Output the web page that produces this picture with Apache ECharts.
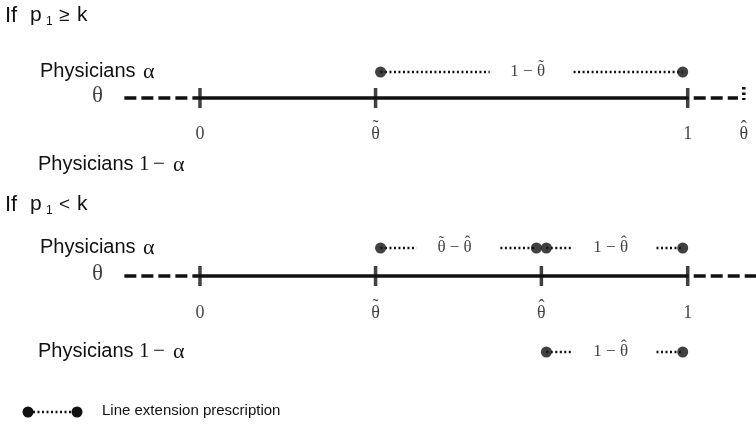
<!DOCTYPE html>
<html>
<head>
<meta charset="utf-8">
<script src="https://cdn.jsdelivr.net/npm/echarts@6/dist/echarts.min.js"></script>
<style>
  html, body { margin: 0; padding: 0; background: #fff; }
  #main { width: 756px; height: 424px; }
</style>
</head>
<body>
<div id="main"></div>
<script>
// points on the theta line (0 and 1 are the ends of the unit interval)
let thetaTilde = 0.36;
let thetaHatHigh = 1.115;  // case p1 >= k : theta-hat lies beyond 1
let thetaHatLow = 0.70;    // case p1 < k
let lineStart = -0.155;
let lineEnd = 1.15;

// tick labels of each panel (~ = tilde accent, ^ = hat accent on the theta before it)
let ticksTop = [[0, '0'], [thetaTilde, 'θ~'], [1, '1'], [thetaHatHigh, 'θ^']];
let ticksBottom = [[0, '0'], [thetaTilde, 'θ~'], [thetaHatLow, 'θ^'], [1, '1']];

// line extension prescription segments: [from, to, label]
let segTopAlpha = [[thetaTilde, 1, '1 − θ~']];
let segBottomAlpha = [[thetaTilde, thetaHatLow, 'θ~ − θ^'], [thetaHatLow, 1, '1 − θ^']];
let segBottomOther = [[thetaHatLow, 1, '1 − θ^']];

// vertical layout (rows, in pixels from the top)
let rowsTop = { title: 17, alpha: 72, axis: 98, ticks: 134, other: 165 };
let rowsBottom = { title: 206, alpha: 248, axis: 276, ticks: 313, other: 352 };

let INK = '#111';
let SANS = '"Liberation Sans", Arial, sans-serif';
let SERIF = '"Liberation Serif", "DejaVu Serif", serif';
let ACCENTS = { '~': '˜', '^': 'ˆ' };
let gapHalf = 0.086;  // half width of the gap left for a segment label

let measureCtx = document.createElement('canvas').getContext('2d');
function textWidth(s, size) {
  measureCtx.font = size + 'px ' + SERIF;
  return measureCtx.measureText(s).width;
}

// scatter items for a math label: the plain text plus each accent placed over its theta
function mathItems(x, y, str, size) {
  let base = str.replace(/[~^]/g, '');
  let total = textWidth(base, size);
  let items = [{ value: [x, y], label: { formatter: base, fontSize: size } }];
  let plain = '';
  for (let i = 0; i < str.length; i++) {
    let c = str.charAt(i);
    if (ACCENTS[c]) {
      let pre = plain.slice(0, -1);
      let dx = textWidth(pre, size) + textWidth('θ', size) / 2 - total / 2;
      items.push({
        value: [x, y],
        label: { formatter: ACCENTS[c], fontSize: size, offset: [dx, -size * 0.3] }
      });
    } else {
      plain += c;
    }
  }
  return items;
}

let myChart = echarts.init(document.getElementById('main'));
let series = [];

function hline(x0, x1, y, style) {
  series.push({
    type: 'line', silent: true, symbol: 'none', animation: false,
    data: [[x0, y], [x1, y]],
    lineStyle: Object.assign({ color: INK, cap: 'butt' }, style)
  });
}

function labelSeries(items) {
  series.push({
    type: 'scatter', silent: true, animation: false, symbolSize: 0,
    label: { show: true, position: 'inside', color: INK, fontFamily: SERIF },
    data: items
  });
}

function thetaLine(rows, ticks, rightEnd) {
  hline(lineStart, 0, rows.axis, { width: 3.5, type: [12, 5] });
  hline(0, 1, rows.axis, { width: 3.5 });
  hline(1, rightEnd, rows.axis, { width: 3.5, type: [12, 5], dashOffset: -6 });
  series.push({
    type: 'scatter', silent: true, animation: false,
    symbol: 'rect', symbolSize: [3.5, 20],
    itemStyle: { color: INK },
    data: ticks.filter(t => t[0] <= 1).map(t => [t[0], rows.axis])
  });
  let items = [];
  ticks.forEach(t => { items = items.concat(mathItems(t[0], rows.ticks, t[1], 18)); });
  items.push({ value: [-0.21, rows.axis - 2], label: { formatter: 'θ', fontSize: 23 } });
  labelSeries(items);
}

function segments(list, y) {
  list.forEach(s => {
    let mid = (s[0] + s[1]) / 2;
    let dotted = { width: 2.5, type: [2, 2.5] };
    hline(s[0] + 0.01, mid - gapHalf, y, dotted);
    hline(mid + gapHalf, s[1] - 0.01, y, dotted);
    series.push({
      type: 'scatter', silent: true, animation: false,
      symbol: 'circle', symbolSize: 11,
      itemStyle: { color: INK },
      data: [
        { value: [s[0], y], symbolOffset: [5, 0] },
        { value: [s[1], y], symbolOffset: [-5, 0] }
      ]
    });
    labelSeries(mathItems(mid - 0.008, y, s[2], 17));
  });
}

thetaLine(rowsTop, ticksTop, thetaHatHigh - 0.012);
thetaLine(rowsBottom, ticksBottom, lineEnd);
segments(segTopAlpha, rowsTop.alpha);
segments(segBottomAlpha, rowsBottom.alpha);
segments(segBottomOther, rowsBottom.other);

// dotted marker where theta-hat falls beyond 1
series.push({
  type: 'line', silent: true, symbol: 'none', animation: false,
  data: [[thetaHatHigh, rowsTop.axis - 11], [thetaHatHigh, rowsTop.axis + 2]],
  lineStyle: { color: INK, width: 3.5, type: [2.5, 3], cap: 'butt' }
});

function txt(left, top, text, font) {
  return { type: 'text', left: left, top: top, style: { text: text, font: font, fill: INK } };
}

function panelText(rows, relation) {
  return [
    txt(5, rows.title - 12, 'If', '22px ' + SANS),
    txt(30, rows.title - 12, 'p', '21px ' + SANS),
    txt(46, rows.title - 1, '1', '12px ' + SANS),
    txt(59, rows.title - 11, relation, '19px ' + SANS),
    txt(77, rows.title - 12, 'k', '21px ' + SANS),
    txt(40, rows.alpha - 11, 'Physicians', '20px ' + SANS),
    txt(143, rows.alpha - 11, 'α', '22px ' + SERIF),
    txt(38, rows.other - 11, 'Physicians', '20px ' + SANS),
    txt(139, rows.other - 11, '1', '21px ' + SERIF),
    txt(153, rows.other - 11, '−', '21px ' + SERIF),
    txt(173, rows.other - 11, 'α', '22px ' + SERIF)
  ];
}

let legendY = 412;
let graphic = panelText(rowsTop, '≥').concat(panelText(rowsBottom, '<')).concat([
  { type: 'line', shape: { x1: 33, y1: legendY, x2: 73, y2: legendY },
    style: { stroke: INK, lineWidth: 2.5, lineDash: [2, 2.5] } },
  { type: 'circle', shape: { cx: 28, cy: legendY, r: 5.5 }, style: { fill: INK } },
  { type: 'circle', shape: { cx: 77, cy: legendY, r: 5.5 }, style: { fill: INK } },
  txt(102, legendY - 9, 'Line extension prescription', '15px ' + SANS)
]);

let option = {
  backgroundColor: '#fff',
  animation: false,
  grid: { left: 0, right: 0, top: 0, bottom: 0 },
  xAxis: { type: 'value', min: -0.41, max: 1.14, show: false },
  yAxis: { type: 'value', min: 0, max: 424, inverse: true, show: false },
  graphic: graphic,
  series: series
};
myChart.setOption(option);

window.addEventListener('resize', function () {
  myChart.resize();
});
</script>
</body>
</html>
